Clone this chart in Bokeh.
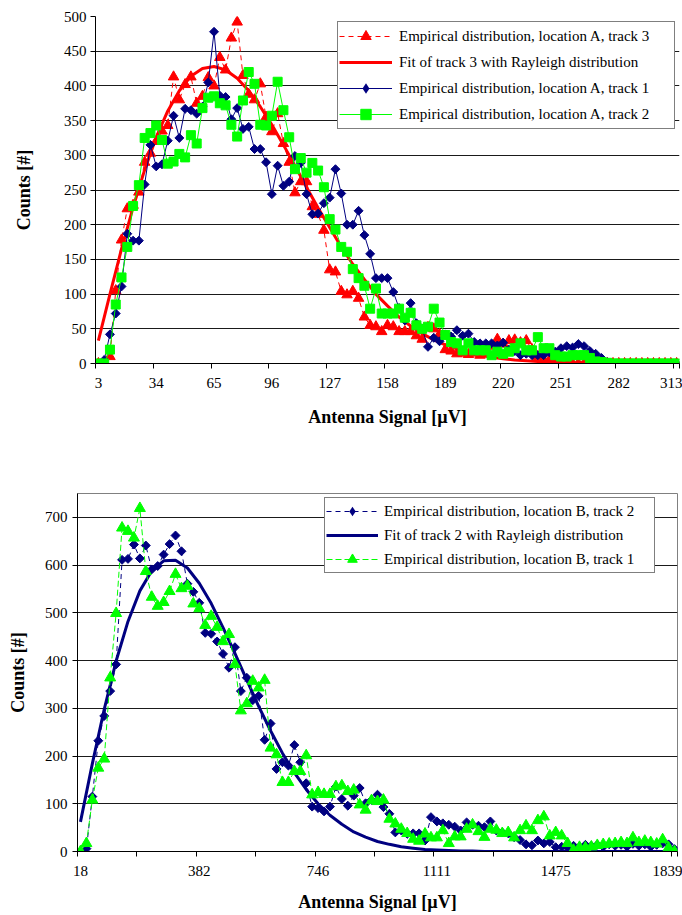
from bokeh.plotting import figure
from bokeh.models import FixedTicker, Legend, LegendItem, Range1d
from bokeh.embed import file_html
from bokeh.resources import INLINE
import math

FONT = "'Liberation Serif', serif"

# ---------------- Chart A (location A) ----------------
A_CATEGORIES = list(range(101))            # category index of each bin
A_TICK_INDEX = [0, 10, 20, 30, 40, 50, 60, 70, 80, 90, 100]
A_TICK_LABELS = ["3", "34", "65", "96", "127", "158", "189", "220", "251", "282", "313"]

A_TRACK3 = [0, 0, 10, 105, 178, 223, 228, 247, 290, 303,
            320, 335, 343, 413, 380, 402, 413, 375, 385, 412,
            400, 441, 423, 469, 492, 415, 388, 380, 403, 355,
            334, 360, 317, 290, 246, 262, 262, 226, 215, 192,
            135, 132, 104, 99, 104, 94, 67, 55, 53, 46,
            55, 53, 46, 46, 46, 40, 35, 52, 50, 42,
            20, 18, 14, 15, 13, 15, 12, 18, 25, 35,
            28, 33, 34, 30, 33, 20, 10, 5, 5, 3,
            2, 0, 0, 0, 0, 0, 0, 0, 0, 0,
            0, 0, 0, 0, 0, 0, 0, 0, 0, 0, 0]

A_TRACK1 = [0, 5, 42, 72, 111, 187, 177, 177, 258, 315,
            284, 287, 321, 357, 325, 367, 365, 360, 370, 405,
            478, 386, 384, 352, 368, 338, 341, 309, 309, 290,
            244, 285, 256, 262, 299, 289, 244, 215, 216, 231,
            239, 280, 245, 200, 200, 220, 185, 158, 123, 123,
            123, 103, 80, 62, 87, 58, 50, 24, 37, 32,
            42, 39, 48, 40, 43, 31, 29, 29, 29, 26,
            30, 20, 18, 12, 14, 12, 12, 12, 16, 17,
            22, 25, 23, 28, 25, 18, 14, 8, 2, 0,
            0, 0, 0, 0, 0, 0, 0, 0, 0, 0, 0]

A_TRACK2 = [0, 0, 20, 85, 124, 168, 227, 257, 325, 332,
            343, 322, 288, 291, 302, 297, 329, 317, 368, 383,
            385, 375, 372, 344, 327, 379, 420, 403, 344, 343,
            357, 406, 365, 326, 280, 296, 275, 289, 278, 254,
            208, 193, 168, 161, 136, 123, 112, 79, 108, 72,
            72, 72, 79, 66, 73, 55, 50, 53, 79, 59,
            41, 31, 29, 19, 29, 19, 19, 19, 12, 17,
            14, 17, 22, 29, 19, 19, 38, 22, 22, 12,
            10, 10, 12, 12, 12, 8, 3, 2, 1, 0,
            0, 0, 0, 0, 0, 0, 0, 0, 0, 0, 0]

A_FIT_INDEX = list(range(0, 101, 2))
A_FIT3 = [33, 100, 165, 225, 279, 326, 364, 393, 414, 425,
          428, 423, 411, 393, 370, 344, 315, 285, 254, 224,
          196, 168, 143, 121, 100, 83, 67, 54, 43, 34,
          27, 21, 16, 12, 9, 7, 5, 4, 3, 2,
          1, 1, 1, 0, 0, 0, 0, 0, 0, 0, 0]

# ---------------- Chart B (location B) ----------------
B_CATEGORIES = list(range(101))
B_TICK_INDEX = [0, 20, 40, 60, 80, 100]
B_TICK_LABELS = ["18", "382", "746", "1111", "1475", "1839"]

B_TRACK2 = [0, 6, 115, 232, 284, 336, 392, 611, 613, 643,
            614, 641, 591, 598, 622, 644, 662, 629, 561, 544,
            521, 458, 456, 440, 414, 385, 428, 336, 364, 317,
            326, 234, 268, 173, 187, 180, 223, 187, 143, 94,
            91, 84, 94, 136, 110, 96, 117, 133, 101, 108,
            119, 93, 79, 40, 44, 37, 38, 38, 23, 72,
            63, 59, 56, 52, 44, 61, 56, 54, 51, 63,
            44, 40, 38, 30, 24, 15, 13, 23, 17, 20,
            9, 10, 8, 12, 10, 14, 12, 14, 10, 15,
            12, 14, 10, 16, 12, 15, 10, 14, 17, 15, 5]

B_TRACK1 = [0, 17, 108, 175, 194, 364, 499, 678, 671, 657,
            719, 587, 533, 514, 522, 545, 581, 551, 556, 519,
            509, 474, 493, 470, 440, 455, 392, 295, 310, 357,
            343, 359, 217, 203, 145, 145, 168, 168, 201, 119,
            124, 120, 120, 136, 138, 126, 129, 98, 87, 107,
            105, 108, 68, 58, 47, 38, 26, 22, 37, 29,
            29, 44, 17, 31, 31, 47, 56, 42, 30, 47,
            45, 38, 40, 29, 44, 54, 44, 65, 73, 33,
            40, 33, 17, 3, 9, 8, 10, 13, 15, 16,
            17, 19, 17, 29, 19, 22, 19, 16, 25, 8, 0]

B_FIT_INDEX = list(range(0, 101, 2))
B_FIT2 = [62, 184, 298, 399, 482, 546, 588, 609, 610, 594,
          562, 520, 469, 415, 359, 304, 253, 206, 165, 130,
          100, 76, 57, 41, 30, 21, 15, 10, 7, 4,
          3, 2, 1, 1, 0, 0, 0, 0, 0, 0,
          0, 0, 0, 0, 0, 0, 0, 0, 0, 0, 0]

RED = "#FF0000"
NAVY = "#000080"
LIME = "#00FF00"

CATEGORY_TICK_MARKS = [-0.5, 9.5, 19.5, 29.5, 39.5, 49.5, 59.5, 69.5, 79.5, 89.5, 99.5, 100.5]


def style(p, tick_index, tick_labels, y_ticks, y_stand, y_title_stand):
    p.background_fill_color = "white"
    p.border_fill_color = "white"
    p.xgrid.grid_line_color = None
    p.ygrid.ticker = FixedTicker(ticks=y_ticks)
    p.ygrid.grid_line_color = "#1a1a1a"
    p.ygrid.grid_line_width = 1

    p.xaxis.ticker = FixedTicker(ticks=tick_index, minor_ticks=CATEGORY_TICK_MARKS)
    p.xaxis.major_label_overrides = {t: lab for t, lab in zip(tick_index, tick_labels)}
    p.xaxis.major_tick_out = 0
    p.xaxis.major_tick_in = 0
    p.xaxis.minor_tick_out = 5
    p.xaxis.minor_tick_in = 0
    p.xaxis.minor_tick_line_color = "black"
    p.xaxis.major_label_standoff = 9

    p.yaxis.ticker = FixedTicker(ticks=y_ticks)
    p.yaxis.major_tick_out = 5
    p.yaxis.major_tick_in = 0
    p.yaxis.minor_tick_line_color = None
    p.yaxis.major_label_standoff = y_stand
    p.yaxis.axis_label_standoff = y_title_stand

    for ax in (p.xaxis, p.yaxis):
        ax.axis_line_color = "black"
        ax.major_tick_line_color = "black"
        ax.major_label_text_font = FONT
        ax.major_label_text_font_size = "15px"
        ax.major_label_text_color = "black"
        ax.axis_label_text_font = FONT
        ax.axis_label_text_font_size = "18px"
        ax.axis_label_text_font_style = "bold"
        ax.axis_label_text_color = "black"


def style_legend(leg, glyph_w, standoff, label_width, row_h):
    leg.label_text_font = FONT
    leg.label_text_font_size = "15px"
    leg.label_text_color = "black"
    leg.glyph_width = glyph_w
    leg.glyph_height = row_h
    leg.label_height = row_h
    leg.label_standoff = standoff
    leg.label_width = label_width
    leg.spacing = 0
    leg.padding = 1
    leg.margin = 0
    leg.border_line_color = "black"
    leg.border_line_width = 1
    leg.background_fill_color = "white"
    leg.background_fill_alpha = 1


# ---------- top chart ----------
p1 = figure(width=682, height=438, output_backend="svg", toolbar_location=None,
            x_range=Range1d(-0.5, 100.5), y_range=Range1d(0, 500),
            min_border_left=95, min_border_right=3, min_border_top=16, min_border_bottom=75,
            x_axis_label="Antenna Signal [\u00b5V]", y_axis_label="Counts [#]")
p1.outline_line_color = None
style(p1, A_TICK_INDEX, A_TICK_LABELS, list(range(0, 501, 50)), 4, 27)
p1.xaxis.axis_label_standoff = 16

l3 = p1.line(A_CATEGORIES, A_TRACK3, line_color=RED, line_width=1, line_dash="5 4")
s3 = p1.scatter(A_CATEGORIES, A_TRACK3, marker="triangle", size=10.5, fill_color=RED, line_color=RED)
f3 = p1.line(A_FIT_INDEX, A_FIT3, line_color=RED, line_width=3)
l1 = p1.line(A_CATEGORIES, A_TRACK1, line_color=NAVY, line_width=1)
s1 = p1.scatter(A_CATEGORIES, A_TRACK1, marker="square", angle=math.pi / 4, size=6.3, fill_color=NAVY, line_color=NAVY)
# same data drawn at zero size: only its legend swatch (a diamond) is visible
d1 = p1.scatter(A_CATEGORIES, A_TRACK1, marker="diamond", size=0, fill_color=NAVY, line_color=None)
l2 = p1.line(A_CATEGORIES, A_TRACK2, line_color=LIME, line_width=1)
s2 = p1.scatter(A_CATEGORIES, A_TRACK2, marker="square", size=9, fill_color=LIME, line_color=LIME)

leg1 = Legend(items=[
    LegendItem(label="Empirical distribution, location A, track 3", renderers=[l3, s3]),
    LegendItem(label="Fit of track 3 with Rayleigh distribution", renderers=[f3]),
    LegendItem(label="Empirical distribution, location A, track 1", renderers=[l1, d1]),
    LegendItem(label="Empirical distribution, location A, track 2", renderers=[l2, s2]),
], location=(242, 234))
style_legend(leg1, 53, 7, 274, 26)
p1.add_layout(leg1)

# ---------- bottom chart ----------
p2 = figure(width=682, height=477, output_backend="svg", toolbar_location=None,
            x_range=Range1d(-0.5, 100.5), y_range=Range1d(0, 750),
            min_border_left=77, min_border_right=5, min_border_top=55, min_border_bottom=64,
            x_axis_label="Antenna Signal [\u00b5V]", y_axis_label="Counts [#]")
p2.outline_line_color = "#808080"
p2.outline_line_width = 1
style(p2, B_TICK_INDEX, B_TICK_LABELS, list(range(0, 701, 100)), 5, 14)
p2.xaxis.axis_label_standoff = 13

lb2 = p2.line(B_CATEGORIES, B_TRACK2, line_color=NAVY, line_width=1, line_dash="5 4")
sb2 = p2.scatter(B_CATEGORIES, B_TRACK2, marker="square", angle=math.pi / 4, size=6.3, fill_color=NAVY, line_color=NAVY)
db2 = p2.scatter(B_CATEGORIES, B_TRACK2, marker="diamond", size=0, fill_color=NAVY, line_color=None)
fb2 = p2.line(B_FIT_INDEX, B_FIT2, line_color=NAVY, line_width=3)
lb1 = p2.line(B_CATEGORIES, B_TRACK1, line_color=LIME, line_width=1, line_dash="6 3")
sb1 = p2.scatter(B_CATEGORIES, B_TRACK1, marker="triangle", size=11, fill_color=LIME, line_color=LIME)

leg2 = Legend(items=[
    LegendItem(label="Empirical distribution, location B, track 2", renderers=[lb2, db2]),
    LegendItem(label="Fit of track 2 with Rayleigh distribution", renderers=[fb2]),
    LegendItem(label="Empirical distribution, location B, track 1", renderers=[lb1, sb1]),
], location=(247, 278))
style_legend(leg2, 52, 6, 269, 24)
p2.add_layout(leg2)

open("out.html", "w").write(file_html([p1, p2], INLINE))
